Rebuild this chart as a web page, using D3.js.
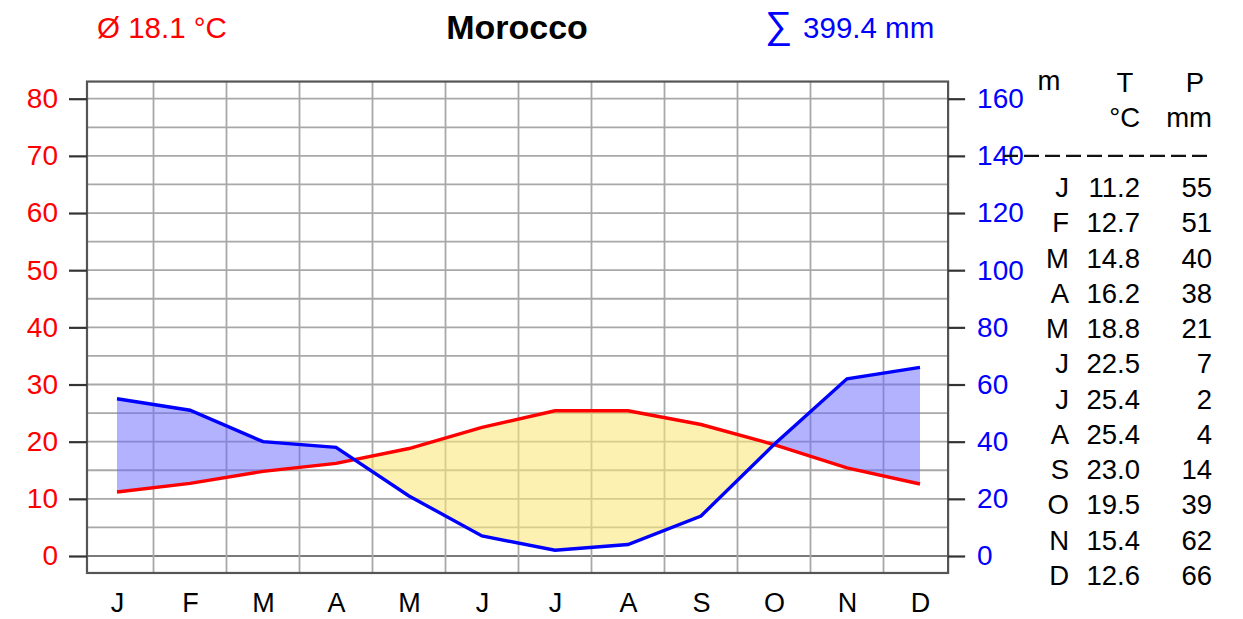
<!DOCTYPE html>
<html>
<head>
<meta charset="utf-8">
<script src="https://cdn.jsdelivr.net/npm/d3@7"></script>
<style>
  html, body { margin: 0; padding: 0; background: #fff; }
  svg { display: block; font-family: "Liberation Sans", Arial, sans-serif; }
</style>
</head>
<body>
<svg id="chart" width="1243" height="619"></svg>
<script>
// ---- data ----
const months = ["J","F","M","A","M","J","J","A","S","O","N","D"];
const temperature = [11.2,12.7,14.8,16.2,18.8,22.5,25.4,25.4,23.0,19.5,15.4,12.6];
const precipitation = [55,51,40,38,21,7,2,4,14,39,62,66];
const tempTicks = [0,10,20,30,40,50,60,70,80];
const precTicks = [0,20,40,60,80,100,120,140,160];
const gridValues = [0,5,10,15,20,25,30,35,40,45,50,55,60,65,70,75,80];
const titleText = "Morocco";
const meanText = "Ø 18.1 °C";
const sumValue = "399.4 mm";
const tableHeaderTop = ["m","T","P"];
const tableHeaderUnits = ["°C","mm"];

(function () {
// ---- scales ----
const svg = d3.select("#chart");
const x = d3.scaleLinear().domain([0, 11]).range([117, 920]);
const yT = d3.scaleLinear().domain([0, 80]).range([556, 98.7]);
const yP = d3.scaleLinear().domain([0, 160]).range([556, 98.7]);
const pLeft = x(-0.411), pRight = x(11.385), pTop = yT(83.0), pBottom = yT(-2.97);

// ---- grid ----
const g = svg.append("g");
g.selectAll("line.hg").data(gridValues).enter().append("line")
  .attr("x1", pLeft).attr("x2", pRight)
  .attr("y1", d => yT(d)).attr("y2", d => yT(d))
  .attr("stroke", d => d === 0 ? "#7a7a7a" : "#a8a8a8")
  .attr("stroke-width", d => d === 0 ? 2.2 : 1.8);
g.selectAll("line.vg").data(d3.range(11).map(i => i + 0.5)).enter().append("line")
  .attr("x1", d => x(d)).attr("x2", d => x(d))
  .attr("y1", pTop).attr("y2", pBottom)
  .attr("stroke", "#a8a8a8").attr("stroke-width", 1.8);

// ---- fills (with crossing points) ----
const pts = [];
for (let i = 0; i < 12; i++) {
  const t = temperature[i], p = precipitation[i] / 2;
  pts.push({ i: i, t: t, p: p });
  if (i < 11) {
    const t2 = temperature[i + 1], p2 = precipitation[i + 1] / 2;
    const d1 = p - t, d2 = p2 - t2;
    if (d1 * d2 < 0) {
      const f = d1 / (d1 - d2);
      const tc = t + f * (t2 - t);
      pts.push({ i: i + f, t: tc, p: tc });
    }
  }
}
const wetArea = d3.area().x(d => x(d.i)).y0(d => yT(d.t)).y1(d => yT(Math.max(d.t, d.p)));
const dryArea = d3.area().x(d => x(d.i)).y0(d => yT(Math.min(d.t, d.p))).y1(d => yT(d.t));
svg.append("path").datum(pts).attr("d", dryArea)
  .attr("fill", "#fbe77a").attr("fill-opacity", 0.58);
svg.append("path").datum(pts).attr("d", wetArea)
  .attr("fill", "#6666ff").attr("fill-opacity", 0.5);

// ---- lines ----
const tLine = d3.line().x((d, i) => x(i)).y(d => yT(d));
const pLine = d3.line().x((d, i) => x(i)).y(d => yP(d));
svg.append("path").datum(temperature).attr("d", tLine)
  .attr("fill", "none").attr("stroke", "#ff0000").attr("stroke-width", 3.4);
svg.append("path").datum(precipitation).attr("d", pLine)
  .attr("fill", "none").attr("stroke", "#0000ff").attr("stroke-width", 3.4);

// ---- frame ----
svg.append("rect").attr("x", pLeft).attr("y", pTop)
  .attr("width", pRight - pLeft).attr("height", pBottom - pTop)
  .attr("fill", "none").attr("stroke", "#555").attr("stroke-width", 2.2);

// ---- axes ----
const axL = svg.append("g").attr("transform", `translate(${pLeft},0)`)
  .call(d3.axisLeft(yT).tickValues(tempTicks).tickSize(18).tickPadding(11).tickFormat(d3.format("d")));
axL.select(".domain").remove();
axL.selectAll(".tick line").attr("stroke", "#333").attr("stroke-width", 2.2);
axL.selectAll(".tick text").attr("fill", "#ff0000").style("font-size", "28px")
  .style("font-family", "Liberation Sans, Arial, sans-serif");

const axR = svg.append("g").attr("transform", `translate(${pRight},0)`)
  .call(d3.axisRight(yP).tickValues(precTicks).tickSize(17).tickPadding(12).tickFormat(d3.format("d")));
axR.select(".domain").remove();
axR.selectAll(".tick line").attr("stroke", "#333").attr("stroke-width", 2.2);
axR.selectAll(".tick text").attr("fill", "#0000ff").style("font-size", "28px")
  .style("font-family", "Liberation Sans, Arial, sans-serif");

const axB = svg.append("g").attr("transform", `translate(0,${pBottom})`)
  .call(d3.axisBottom(x).tickValues(d3.range(12)).tickSize(0).tickPadding(20).tickFormat(i => months[i]));
axB.select(".domain").remove();
axB.selectAll(".tick text").attr("fill", "#000").style("font-size", "27px")
  .style("font-family", "Liberation Sans, Arial, sans-serif");

// ---- title row ----
svg.append("text").attr("x", 97).attr("y", 38).attr("fill", "#ff0000")
  .style("font-size", "29.5px").text(meanText);
svg.append("text").attr("x", 517).attr("y", 39).attr("text-anchor", "middle")
  .attr("fill", "#000").style("font-size", "34px").style("font-weight", "bold").text(titleText);
const sumT = svg.append("text").attr("x", 765).attr("y", 38).attr("fill", "#0000ff").style("font-size", "29.5px");
sumT.append("tspan").style("font-size", "38px").text("∑");
sumT.append("tspan").attr("dx", 11).text(sumValue);

// ---- table ----
const tbl = svg.append("g").style("font-size", "27.5px").attr("fill", "#000");
tbl.append("text").attr("x", 1049).attr("y", 90).attr("text-anchor", "middle").text(tableHeaderTop[0]);
tbl.append("text").attr("x", 1125).attr("y", 92).attr("text-anchor", "middle").text(tableHeaderTop[1]);
tbl.append("text").attr("x", 1195).attr("y", 92).attr("text-anchor", "middle").text(tableHeaderTop[2]);
tbl.append("text").attr("x", 1140).attr("y", 127).attr("text-anchor", "end").text(tableHeaderUnits[0]);
tbl.append("text").attr("x", 1212).attr("y", 127).attr("text-anchor", "end").text(tableHeaderUnits[1]);
svg.append("line").attr("x1", 1003).attr("x2", 1212).attr("y1", yP(140)).attr("y2", yP(140))
  .attr("stroke", "#111").attr("stroke-width", 2.2).attr("stroke-dasharray", "15,6");

const rowY = d3.scaleLinear().domain([0, 11]).range([197, 585]);
const rows = tbl.selectAll("g.row").data(months).enter().append("g");
rows.append("text").attr("x", 1069).attr("y", (d, i) => rowY(i)).attr("text-anchor", "end").text(d => d);
rows.append("text").attr("x", 1140).attr("y", (d, i) => rowY(i)).attr("text-anchor", "end")
  .text((d, i) => temperature[i].toFixed(1));
rows.append("text").attr("x", 1212).attr("y", (d, i) => rowY(i)).attr("text-anchor", "end")
  .text((d, i) => precipitation[i]);
})();
</script>
</body>
</html>
